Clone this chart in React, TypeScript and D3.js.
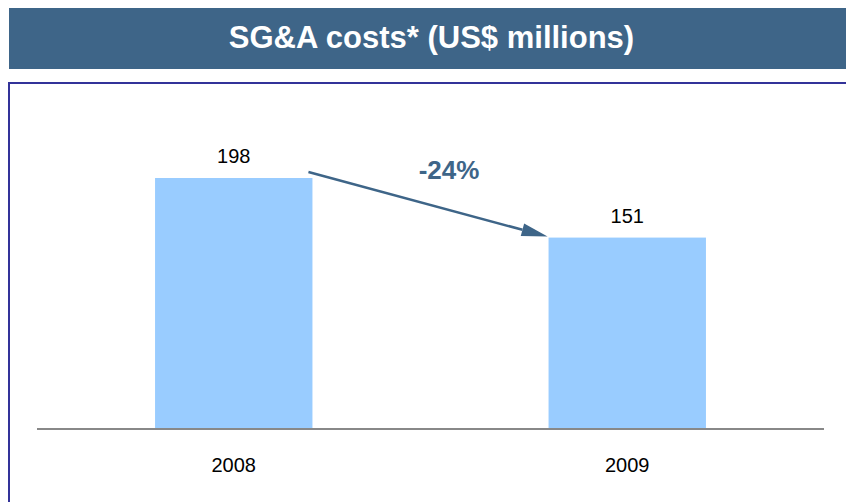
import React from "react";
import * as d3 from "d3";

const years = ["2008", "2009"];
const values = [198, 151];
const changeLabel = "-24%";
const title = "SG&A costs* (US$ millions)";

const W = 846;
const H = 502;
const FONT = "'Liberation Sans', Arial, sans-serif";
const HEADER = "#3e6588";
const BAR = "#99ccff";

export default function App() {
  const x = d3.scaleBand<string>().domain(years).range([37, 824]).paddingInner(0).paddingOuter(0);
  const k = (429 - 178) / 198;
  const y = d3.scaleLinear().domain([0, 200]).range([429, 429 - 200 * k]);
  const bw = x.bandwidth() * 0.4;
  const barX = (yr: string) => (x(yr) as number) + x.bandwidth() / 2 - bw / 2;

  // arrow from top-right of first bar to top-left of second bar
  const x0 = barX(years[0]) + bw - 4;
  const y0 = y(values[0]) - 6;
  const x1 = barX(years[1]) - 1;
  const y1 = y(values[1]) - 1;
  const ang = Math.atan2(y1 - y0, x1 - x0);
  const headLen = 26;
  const headW = 6.5;
  const bx = x1 - headLen * Math.cos(ang);
  const by = y1 - headLen * Math.sin(ang);
  const px = -Math.sin(ang);
  const py = Math.cos(ang);
  const head = [
    [x1, y1],
    [bx + headW * px, by + headW * py],
    [bx - headW * px, by - headW * py],
  ];

  return (
    <svg width={W} height={H} style={{ position: "absolute", left: 0, top: 0, display: "block" }} fontFamily={FONT}>
      <rect x={0} y={0} width={W} height={H} fill="#ffffff" />
      <rect x={9} y={8} width={W - 9} height={61} fill={HEADER} />
      <text x={(9 + W) / 2 + 4} y={48} textAnchor="middle" fill="#ffffff" fontWeight="bold" fontSize={31}>
        {title}
      </text>
      <rect x={9} y={83} width={W + 10} height={H} fill="none" stroke="#333399" strokeWidth={2} />
      {years.map((yr, i) => (
        <g key={yr}>
          <rect x={barX(yr)} y={y(values[i])} width={bw} height={y(0) - y(values[i])} fill={BAR} />
          <text x={barX(yr) + bw / 2} y={y(values[i]) - 15} textAnchor="middle" fontSize={20} fill="#000">
            {values[i]}
          </text>
          <text x={barX(yr) + bw / 2} y={472} textAnchor="middle" fontSize={20} fill="#000">
            {yr}
          </text>
        </g>
      ))}
      <line x1={37} x2={824} y1={429} y2={429} stroke="#888888" strokeWidth={2} />
      <line x1={x0} y1={y0} x2={bx} y2={by} stroke={HEADER} strokeWidth={2.5} />
      <polygon points={head.map((p) => p.join(",")).join(" ")} fill={HEADER} />
      <text x={449} y={179} textAnchor="middle" fontSize={26} fontWeight="bold" fill={HEADER}>
        {changeLabel}
      </text>
    </svg>
  );
}
